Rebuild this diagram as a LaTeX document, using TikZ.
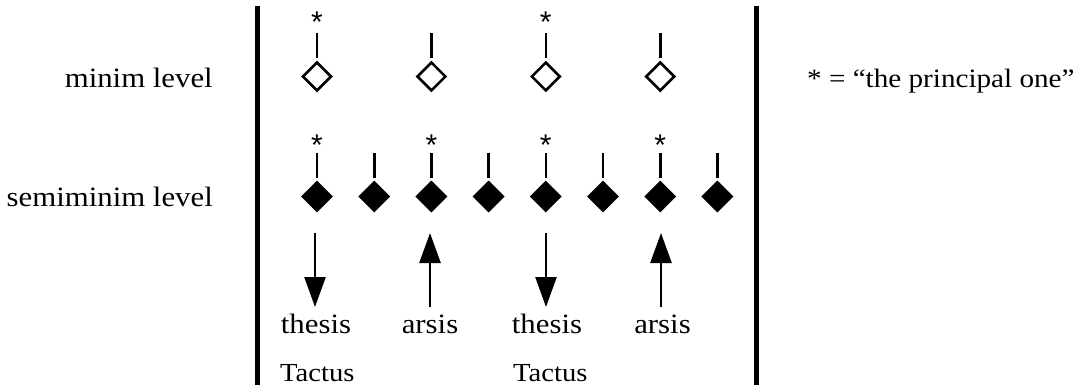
\documentclass[tikz,border=0pt]{standalone}
\usepackage{fontspec}
\setmainfont[FakeStretch=1.1]{Liberation Serif}
\newfontfamily\starfont{Liberation Sans}
\usetikzlibrary{shapes.geometric,arrows.meta}
\begin{document}
\begin{tikzpicture}[x=1pt,y=-1pt,
  bar/.style={line width=5pt},
  stem/.style={line width=2.6pt},
  opendia/.style={diamond,draw,line width=2.6pt,inner sep=0pt,minimum width=29pt,minimum height=29pt,fill=white},
  filldia/.style={diamond,fill=black,inner sep=0pt,minimum width=32pt,minimum height=32pt},
  star/.style={font=\starfont\fontsize{30}{30}\selectfont,inner sep=0pt,anchor=base},
  lbl/.style={font=\fontsize{28}{30}\selectfont,inner sep=0pt},
  legendtext/.style={font=\fontsize{26.5}{28}\selectfont,inner sep=0pt},
  tactus/.style={font=\fontsize{26}{28}\selectfont,inner sep=0pt,anchor=base west},
  beat/.style={line width=2.5pt,-{Triangle[length=30pt,width=21pt]}}]
\useasboundingbox (0,0) rectangle (1080,385);
% bars
\coordinate (lt) at (257,6); \coordinate (lb) at (257,385);
\coordinate (rt) at (756,6); \coordinate (rb) at (756,385);
\draw[bar] (lt) -- (lb);
\draw[bar] (rt) -- (rb);
% labels
\node[lbl,anchor=base east] (minlbl) at (213,88) {minim level};
\node[lbl,anchor=base east] (semlbl) at (213,207) {semiminim level};
\node[legendtext,anchor=base west] (legend) at (807,88) {* = “the principal one”};
% minim level
\foreach \k/\x in {1/317,2/431.4,3/545.8,4/660.2}{
  \node[opendia] (m\k) at (\x,76.5) {};
  \coordinate (mt\k) at (\x,33);
  \draw[stem,shorten <=2.5pt] (m\k.north) -- (mt\k);
}
\node[star] (ms1) at (317,33) {*};
\node[star] (ms3) at (545.8,33) {*};
% semiminim level
\foreach \k/\x in {1/317,2/374.2,3/431.4,4/488.6,5/545.8,6/603,7/660.2,8/717.4}{
  \node[filldia] (s\k) at (\x,196.5) {};
  \coordinate (st\k) at (\x,153);
  \draw[stem,shorten <=2.5pt] (s\k.north) -- (st\k);
}
\node[star] (ss1) at (317,156) {*};
\node[star] (ss3) at (431.4,156) {*};
\node[star] (ss5) at (545.8,156) {*};
\node[star] (ss7) at (660.2,156) {*};
% arrows
\coordinate (a1t) at (315,233); \coordinate (a1b) at (315,307);
\coordinate (a2t) at (430,233); \coordinate (a2b) at (430,307);
\coordinate (a3t) at (546,233); \coordinate (a3b) at (546,307);
\coordinate (a4t) at (661,233); \coordinate (a4b) at (661,307);
\draw[beat] (a1t) -- (a1b);
\draw[beat] (a2b) -- (a2t);
\draw[beat] (a3t) -- (a3b);
\draw[beat] (a4b) -- (a4t);
% words
\node[lbl,anchor=base] (th1) at (316,333) {thesis};
\node[lbl,anchor=base] (ar1) at (430,333) {arsis};
\node[lbl,anchor=base] (th2) at (547,333) {thesis};
\node[lbl,anchor=base] (ar2) at (662.5,333) {arsis};
\node[tactus] (ta1) at (280,381) {Tactus};
\node[tactus] (ta2) at (513,381) {Tactus};
\end{tikzpicture}
\end{document}
